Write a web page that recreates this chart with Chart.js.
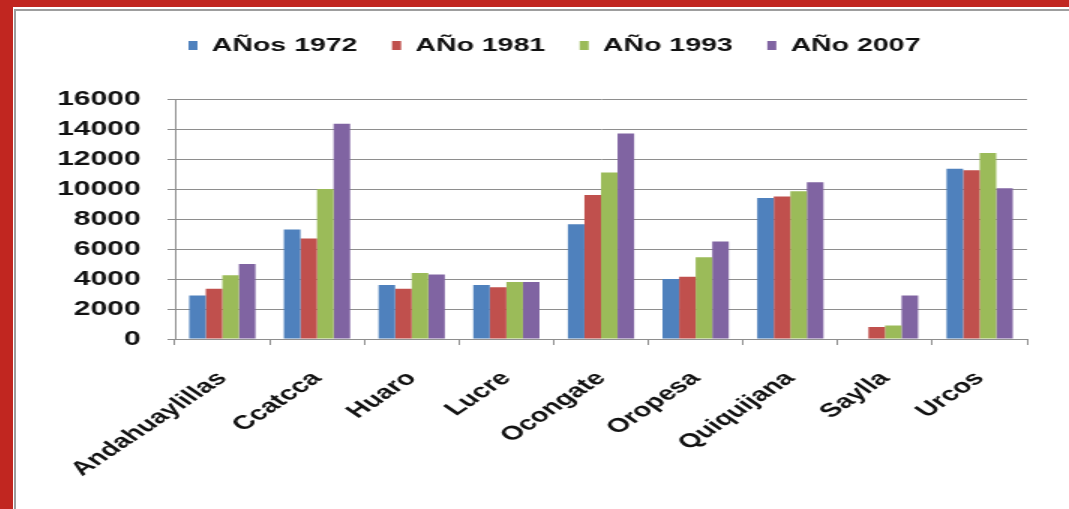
<!DOCTYPE html>
<html>
<head>
<meta charset="utf-8">
<script src="https://cdn.jsdelivr.net/npm/chart.js@4.4.1/dist/chart.umd.min.js"></script>
<style>
  html, body { margin: 0; padding: 0; }
  body { width: 1069px; height: 509px; background: #c12620; overflow: hidden; position: relative; }
  #panel { position: absolute; left: 13px; top: 7px; width: 1056px; height: 502px; background: #fff; }
  #frame { position: absolute; left: 14px; top: 9px; width: 1060px; height: 510px;
           border-left: 2px solid #9d9d9d; border-top: 2px solid #9d9d9d; }
  /* the source picture is stretched sideways, so the chart is drawn narrow and widened */
  #wrap { position: absolute; left: 16px; top: 11px; width: 702px; height: 498px;
          transform: scaleX(1.5); transform-origin: 0 0; }
</style>
</head>
<body>
<div id="panel"></div>
<div id="frame"></div>
<div id="wrap"><canvas id="chart" width="702" height="498"></canvas></div>
<script>
// ---- Data ----
const categories = ['Andahuaylillas', 'Ccatcca', 'Huaro', 'Lucre', 'Ocongate',
                    'Oropesa', 'Quiquijana', 'Saylla', 'Urcos'];
const seriesNames = ['AÑos 1972', 'AÑo 1981', 'AÑo 1993', 'AÑo 2007'];
const anio1972 = [2900, 7300, 3600, 3600, 7650, 4000, 9400, null, 11350];
const anio1981 = [3350, 6700, 3350, 3450, 9600, 4150, 9500, 800, 11250];
const anio1993 = [4250, 10000, 4400, 3800, 11100, 5450, 9850, 900, 12400];
const anio2007 = [5000, 14350, 4300, 3800, 13700, 6500, 10450, 2900, 10050];
const yTicks = [0, 2000, 4000, 6000, 8000, 10000, 12000, 14000, 16000];

const colors = ['#4f81bd', '#c0504d', '#9bbb59', '#8064a2'];
const GRID = '#8e8e8e';

Chart.defaults.font.family = "'Liberation Sans', Arial, sans-serif";
Chart.defaults.color = '#000';

// extra room under the legend, and legend nudged to the right
const legendTweak = {
  id: 'legendTweak',
  beforeInit(chart) {
    const origFit = chart.legend.fit;
    chart.legend.fit = function () {
      origFit.bind(chart.legend)();
      this.height += 34;
    };
  },
  afterLayout(chart) {
    chart.legend.left += 22;
    chart.legend.right += 22;
  }
};

const allSeries = [anio1972, anio1981, anio1993, anio2007];

new Chart(document.getElementById('chart'), {
  type: 'bar',
  data: {
    labels: categories,
    datasets: allSeries.map((vals, i) => ({
      label: seriesNames[i],
      data: vals,
      backgroundColor: colors[i],
      borderWidth: 0,
      categoryPercentage: 0.70,
      barPercentage: 1.0
    }))
  },
  options: {
    responsive: false,
    animation: false,
    layout: { padding: { top: 2, left: 0, right: 28, bottom: 0 } },
    plugins: {
      tooltip: { enabled: false },
      legend: {
        position: 'top',
        labels: {
          boxWidth: 6,
          boxHeight: 9,
          padding: 23,
          color: '#111',
          font: { size: 19, weight: 'bold' }
        }
      }
    },
    scales: {
      x: {
        grid: { display: true, drawOnChartArea: false, drawTicks: true, tickLength: 6, color: GRID, offset: true },
        border: { display: true, color: GRID, width: 1 },
        ticks: {
          minRotation: 45, maxRotation: 45, padding: 22, autoSkip: false,
          color: '#111',
          font: { size: 19.5, weight: 'bold' }
        },
        afterFit: s => { s.height = 170; }
      },
      y: {
        min: 0, max: 16000,
        grid: { color: GRID, lineWidth: 1, tickLength: 5, drawTicks: true },
        border: { display: true, color: GRID, width: 1 },
        afterBuildTicks: s => { s.ticks = yTicks.map(v => ({ value: v })); },
        ticks: {
          padding: 18,
          color: '#111',
          font: { size: 20, weight: 'bold' },
          callback: v => String(v)
        },
        afterFit: s => { s.width = 106; }
      }
    }
  },
  plugins: [legendTweak]
});
</script>
</body>
</html>
